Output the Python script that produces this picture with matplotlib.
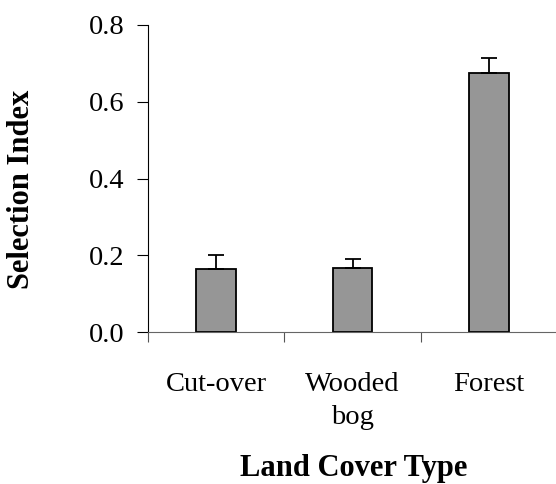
import matplotlib
matplotlib.use("Agg")
import matplotlib.pyplot as plt

cover_types = ["Cut-over", "Wooded\nbog", "Forest"]
selection_index = [0.163, 0.168, 0.674]
std_err = [0.037, 0.021, 0.041]
y_ticks = [0.0, 0.2, 0.4, 0.6, 0.8]

plt.rcParams["font.family"] = ["Liberation Serif", "DejaVu Serif"]

fig = plt.figure(figsize=(5.56, 4.84), dpi=100)
ax = fig.add_axes([148 / 556, 152 / 484, 409 / 556, 307 / 484])

x = list(range(len(cover_types)))
ax.bar(x, selection_index, width=0.29, color="#969696", edgecolor="black",
       linewidth=1.3, zorder=2)
ax.errorbar(x, selection_index, yerr=[[0] * len(std_err), std_err], fmt="none",
            ecolor="black", elinewidth=1.3, capsize=5.5, capthick=1.3, zorder=3)

ax.set_xlim(-0.5, 2.5)
ax.set_ylim(0, 0.8)
ax.set_yticks(y_ticks)
ax.set_yticklabels([f"{v:.1f}" for v in y_ticks])

# category separators as major ticks, names on minor ticks
ax.set_xticks([-0.5, 0.5, 1.5, 2.5])
ax.set_xticklabels([])
ax.set_xticks(x, minor=True)
ax.set_xticklabels(cover_types, minor=True, fontsize=20.5, linespacing=1.4)
ax.tick_params(axis="x", which="minor", length=0, pad=29)
ax.tick_params(axis="x", which="major", length=7.5, width=0.8, color="#555555")
ax.tick_params(axis="y", length=8, width=0.8, pad=9, labelsize=20.5)

for side in ["top", "right"]:
    ax.spines[side].set_visible(False)
ax.spines["left"].set_linewidth(0.8)
ax.spines["bottom"].set_linewidth(0.8)
ax.spines["bottom"].set_color("#666666")

fig.text(22 / 556, 1 - 189 / 484, "Selection Index", rotation=90,
         ha="center", va="center", fontsize=22, fontweight="bold")
fig.text(354 / 556, 1 - 476 / 484, "Land Cover Type", ha="center",
         va="baseline", fontsize=22, fontweight="bold")

fig.savefig("out.png", dpi=100)
